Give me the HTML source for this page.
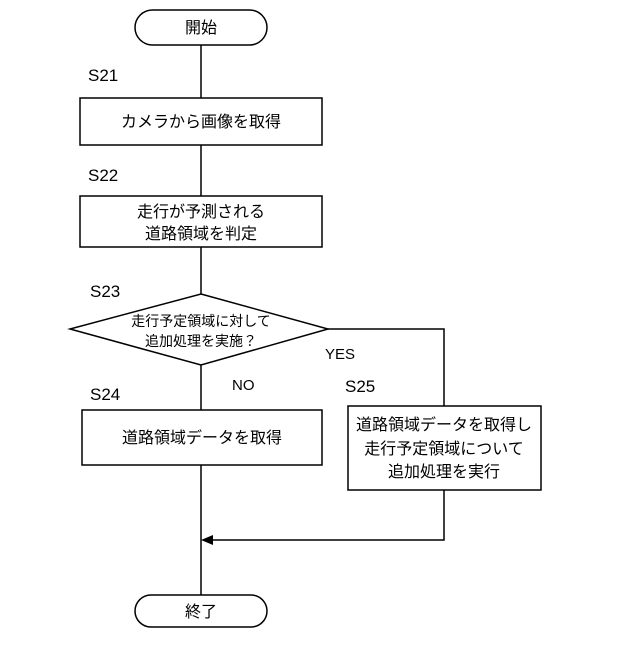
<!DOCTYPE html>
<html><head><meta charset="utf-8"><style>
body{margin:0;background:#fff}
svg text{font-family:"Liberation Sans","Noto Sans CJK JP",sans-serif;fill:#000}
</style></head><body>
<svg width="640" height="640" viewBox="0 0 640 640" xmlns="http://www.w3.org/2000/svg">
<g stroke="#000" stroke-width="1.5" fill="none">
<rect x="135" y="10" width="132" height="35" rx="17.5" fill="#fff"/>
<line x1="201" y1="45" x2="201" y2="98"/>
<rect x="80" y="98" width="242" height="47" fill="#fff"/>
<line x1="201" y1="145" x2="201" y2="196"/>
<rect x="80" y="196" width="242" height="51" fill="#fff"/>
<line x1="201" y1="247" x2="201" y2="294"/>
<polygon points="201,294 328,329 201,365 70,329" fill="#fff"/>
<line x1="201" y1="365" x2="201" y2="410"/>
<polyline points="328,329 444,329 444,406"/>
<rect x="82" y="410" width="240" height="55" fill="#fff"/>
<rect x="348" y="406" width="193" height="84" fill="#fff"/>
<line x1="201" y1="465" x2="201" y2="595"/>
<polyline points="444,490 444,540 210,540"/>
<rect x="135" y="595" width="132" height="32" rx="16" fill="#fff"/>
</g>
<polygon points="201,540 213,535 213,545" fill="#000"/>
<g font-size="16" text-anchor="middle">
<text x="201" y="33">開始</text>
<text x="201" y="127">カメラから画像を取得</text>
<text x="201" y="217">走行が予測される</text>
<text x="201" y="239">道路領域を判定</text>
<text x="201" y="326" font-size="14">走行予定領域に対して</text>
<text x="201" y="346" font-size="14">追加処理を実施？</text>
<text x="202" y="443">道路領域データを取得</text>
<text x="444" y="430">道路領域データを取得し</text>
<text x="444" y="454">走行予定領域について</text>
<text x="444" y="477">追加処理を実行</text>
<text x="201" y="617">終了</text>
</g>
<g font-size="17">
<text x="88" y="81">S21</text>
<text x="88" y="181">S22</text>
<text x="90" y="297">S23</text>
<text x="90" y="400">S24</text>
<text x="345" y="392">S25</text>
</g>
<g font-size="15">
<text x="325" y="359">YES</text>
<text x="232" y="390">NO</text>
</g>
</svg>
</body></html>
